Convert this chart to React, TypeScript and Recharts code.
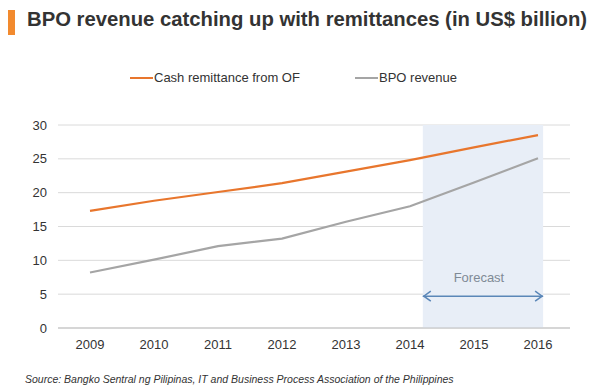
import React from "react";
import {
  CartesianGrid,
  Legend,
  Line,
  LineChart,
  ReferenceArea,
  ReferenceLine,
  XAxis,
  YAxis,
} from "recharts";

const years = [2009, 2010, 2011, 2012, 2013, 2014, 2015, 2016];
const remittance = [17.3, 18.8, 20.1, 21.4, 23.1, 24.8, 26.7, 28.5];
const bpoRevenue = [8.2, 10.1, 12.1, 13.2, 15.7, 18.0, 21.5, 25.1];
const yTicks = [0, 5, 10, 15, 20, 25, 30];

const forecastStart = 2014.2;
const forecastEnd = 2016.08;
const forecastArrowY = 4.7;

const data = years.map((year, i) => ({
  year,
  remittance: remittance[i],
  bpo: bpoRevenue[i],
}));

const ORANGE = "#E8762D";
const GRAY = "#A5A5A5";
const FONT = "'Liberation Sans', Arial, sans-serif";

const Arrow = (props: any) => {
  const { x1, y1, x2, y2 } = props;
  const c = "#5B87B8";
  return (
    <g>
      <line x1={x1} y1={y1} x2={x2} y2={y2} stroke={c} strokeWidth={1.5} />
      <path
        d={`M${x1 + 8},${y1 - 5} L${x1 + 1},${y1} L${x1 + 8},${y1 + 5}`}
        fill="none"
        stroke={c}
        strokeWidth={1.5}
      />
      <path
        d={`M${x2 - 8},${y2 - 5} L${x2 - 1},${y2} L${x2 - 8},${y2 + 5}`}
        fill="none"
        stroke={c}
        strokeWidth={1.5}
      />
    </g>
  );
};

const LegendContent = () => (
  <div style={{ position: "relative", height: 20, fontFamily: FONT, fontSize: 13, color: "#333" }}>
    <div style={{ position: "absolute", left: 130, top: 0, display: "flex", alignItems: "center" }}>
      <span style={{ display: "inline-block", width: 23, height: 2, background: ORANGE }} />
      <span style={{ marginLeft: 1 }}>Cash remittance from OF</span>
    </div>
    <div style={{ position: "absolute", left: 355, top: 0, display: "flex", alignItems: "center" }}>
      <span style={{ display: "inline-block", width: 23, height: 2, background: GRAY }} />
      <span style={{ marginLeft: 1 }}>BPO revenue</span>
    </div>
  </div>
);

const App = () => {
  return (
    <div style={{ position: "absolute", left: 0, top: 0, width: 600, height: 390, background: "#fff", fontFamily: FONT }}>
      <div style={{ position: "absolute", left: 8, top: 10, width: 7, height: 25, background: "#F28A2E" }} />
      <div
        style={{
          position: "absolute",
          left: 27,
          top: 8,
          fontSize: 20.3,
          fontWeight: "bold",
          color: "#333",
          whiteSpace: "nowrap",
        }}
      >
        BPO revenue catching up with remittances (in US$ billion)
      </div>
      <div style={{ position: "absolute", left: 0, top: 0 }}>
        <LineChart
          width={600}
          height={390}
          data={data}
          margin={{ top: 105, right: 30, bottom: 32, left: 0 }}
        >
          <ReferenceArea
            x1={forecastStart}
            x2={forecastEnd}
            y1={0}
            y2={30}
            fill="#E8EEF7"
            fillOpacity={1}
            stroke="none"
          />
          <CartesianGrid vertical={false} stroke="#DADADA" />
          <XAxis
            dataKey="year"
            type="number"
            domain={[2008.5, 2016.5]}
            ticks={years}
            interval={0}
            height={30}
            tickLine={false}
            stroke="#BFBFBF"
            tick={{ fill: "#333", fontSize: 13, fontFamily: FONT }}
            tickMargin={6}
          />
          <YAxis
            width={58}
            domain={[0, 30]}
            ticks={yTicks}
            axisLine={false}
            tickLine={false}
            tickMargin={5}
            tick={{ fill: "#333", fontSize: 13, fontFamily: FONT }}
          />
          <Legend
            verticalAlign="top"
            content={LegendContent}
            wrapperStyle={{ top: 70, left: 0, width: 600 }}
          />
          <ReferenceLine
            segment={[
              { x: forecastStart, y: forecastArrowY },
              { x: forecastEnd, y: forecastArrowY },
            ]}
            shape={Arrow}
            label={{
              value: "Forecast",
              position: "top",
              fill: "#7F8A96",
              fontSize: 13,
              fontFamily: FONT,
              offset: 14,
              dx: -4,
            }}
          />
          <Line
            type="linear"
            dataKey="remittance"
            name="Cash remittance from OF"
            stroke={ORANGE}
            strokeWidth={2.2}
            dot={false}
            isAnimationActive={false}
          />
          <Line
            type="linear"
            dataKey="bpo"
            name="BPO revenue"
            stroke={GRAY}
            strokeWidth={2.2}
            dot={false}
            isAnimationActive={false}
          />
        </LineChart>
      </div>
      <div
        style={{
          position: "absolute",
          left: 25,
          top: 373,
          fontSize: 10.5,
          fontStyle: "italic",
          color: "#333",
          whiteSpace: "nowrap",
        }}
      >
        Source: Bangko Sentral ng Pilipinas, IT and Business Process Association of the Philippines
      </div>
    </div>
  );
};

export default App;
